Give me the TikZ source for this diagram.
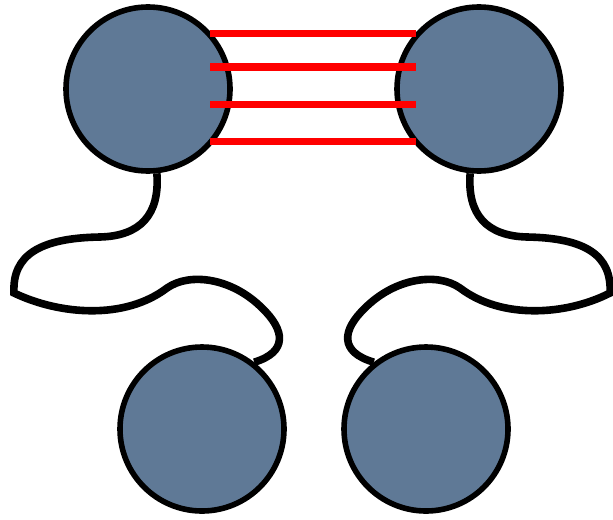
\documentclass[tikz,border=0pt]{standalone}
\usetikzlibrary{calc, backgrounds}
\definecolor{ballblue}{RGB}{95,121,150}
\tikzset{
  ball/.style={circle, draw=black, line width=2.8pt, fill=ballblue, minimum size=82pt, inner sep=0pt},
  bond/.style={red, line width=3.5pt},
  tether/.style={line width=3.8pt, line join=miter},
}
\begin{document}
\begin{tikzpicture}[x=0.5pt, y=-0.5pt]
  \useasboundingbox (0,0) rectangle (613,519);
  \node[ball] (tl) at (148,89) {};
  \node[ball] (tr) at (479,89) {};
  \node[ball] (bl) at (202,429) {};
  \node[ball] (br) at (426,429) {};
  % the two tethers, behind the balls
  \begin{scope}[on background layer]
  \draw[tether] (tl.-84) .. controls (160,215) and (140,236) .. (100,237)
    .. controls (40,238) and (12,255) .. (14,293)
    .. controls (60,315) and (125,320) .. (167,288)
    .. controls (190,272) and (232,278) .. (262,308)
    .. controls (285,330) and (288,352) .. (bl.52);
  \draw[tether] (tr.-96) .. controls (467,215) and (487,236) .. (527,237)
    .. controls (585,238) and (612,255) .. (610,293)
    .. controls (567,315) and (502,320) .. (460,288)
    .. controls (437,272) and (395,278) .. (365,308)
    .. controls (342,330) and (339,352) .. (br.128);
  \end{scope}
  % bonds between the top pair
  \foreach \dy in {-55,-22,15,52}
    \draw[bond] ($(tl.center)+(62,\dy)$) -- ($(tr.center)+(-63,\dy)$);
\end{tikzpicture}
\end{document}
